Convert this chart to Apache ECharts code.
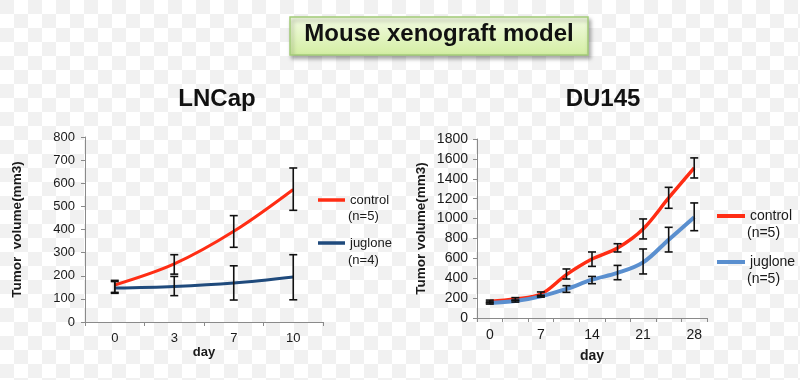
<!DOCTYPE html>
<html>
<head>
<meta charset="utf-8">
<script src="https://cdn.jsdelivr.net/npm/echarts@6/dist/echarts.min.js"></script>
<style>
html,body{margin:0;padding:0;}
body{
  width:800px;height:380px;
  background-color:#ffffff;
  background-image:
    linear-gradient(45deg,#f1f1f1 25%,transparent 25%,transparent 75%,#f1f1f1 75%),
    linear-gradient(45deg,#f1f1f1 25%,transparent 25%,transparent 75%,#f1f1f1 75%);
  background-size:28px 28px;
  background-position:14px 0,0 14px;
}
#chart{width:800px;height:380px;}
</style>
</head>
<body>
<div id="chart"></div>
<script>
// ---- LNCap data ----
var lncapDays = ['0', '3', '7', '10'];
var lncapControl = [160, 251, 392, 573];
var lncapControlLow = [128, 207, 323, 483];
var lncapControlHigh = [180, 291, 460, 666];
var lncapJuglone = [147, 154, 169, 195];
var lncapJugloneLow = [124, 114, 95, 96];
var lncapJugloneHigh = [175, 197, 243, 291];
var lncapTicks = {min: 0, max: 800, interval: 100};

// ---- DU145 data ----
var du145Days = ['0', '3.5', '7', '10.5', '14', '17.5', '21', '24.5', '28'];
var du145Control = [167, 191, 240, 436, 593, 704, 895, 1207, 1509];
var du145ControlLow = [152, 175, 222, 392, 519, 664, 795, 1103, 1408];
var du145ControlHigh = [180, 205, 262, 493, 664, 747, 996, 1314, 1610];
var du145Juglone = [151, 170, 218, 292, 385, 453, 559, 788, 1012];
var du145JugloneLow = [140, 160, 210, 258, 345, 385, 443, 664, 878];
var du145JugloneHigh = [162, 180, 228, 325, 418, 529, 694, 912, 1157];
var du145Ticks = {min: 0, max: 1800, interval: 200};

var FONT = '"Liberation Sans", Arial, sans-serif';
var TXT = '#1a1a1a';
var AXIS = '#8a8a8a';

function plainNum(v) { return String(v); }

function errData(low, high) {
  return low.map(function (l, i) { return [i, l, high[i]]; });
}
function errorBarSeries(name, xi, low, high) {
  return {
    type: 'custom',
    name: name,
    xAxisIndex: xi, yAxisIndex: xi,
    z: 5,
    silent: true,
    data: errData(low, high),
    encode: {x: 0, y: [1, 2]},
    renderItem: function (params, api) {
      var x = api.value(0);
      var lo = api.coord([x, api.value(1)]);
      var hi = api.coord([x, api.value(2)]);
      var w = 4;
      var st = {stroke: '#111', lineWidth: 1.6};
      return {
        type: 'group',
        children: [
          {type: 'line', shape: {x1: lo[0], y1: lo[1], x2: hi[0], y2: hi[1]}, style: st},
          {type: 'line', shape: {x1: lo[0] - w, y1: lo[1], x2: lo[0] + w, y2: lo[1]}, style: st},
          {type: 'line', shape: {x1: hi[0] - w, y1: hi[1], x2: hi[0] + w, y2: hi[1]}, style: st}
        ]
      };
    }
  };
}

function lineSeries(name, xi, data, color, width) {
  return {
    type: 'line', name: name, xAxisIndex: xi, yAxisIndex: xi,
    data: data, smooth: 0.35, symbol: 'none', z: 3,
    itemStyle: {color: color},
    lineStyle: {color: color, width: width}
  };
}

var chart = echarts.init(document.getElementById('chart'), null, {renderer: 'canvas'});

var option = {
  backgroundColor: 'transparent',
  animation: false,
  title: [
    {text: 'Mouse xenograft model', left: 439, top: 22, textAlign: 'center', padding: 0,
     textStyle: {fontFamily: FONT, fontSize: 24, fontWeight: 'bold', color: '#111'}},
    {text: 'LNCap', left: 217, top: 87, textAlign: 'center', padding: 0,
     textStyle: {fontFamily: FONT, fontSize: 24, fontWeight: 'bold', color: '#111'}},
    {text: 'DU145', left: 603, top: 87, textAlign: 'center', padding: 0,
     textStyle: {fontFamily: FONT, fontSize: 24, fontWeight: 'bold', color: '#111'}}
  ],
  legend: [
    {
      data: ['LNCap control', 'LNCap juglone'],
      orient: 'vertical', left: 318, top: 192, padding: 0,
      icon: 'rect', itemWidth: 27, itemHeight: 3.5, itemGap: 27, itemTextGap: 3,
      selectedMode: false,
      formatter: function (n) { return n.replace('LNCap ', ''); },
      textStyle: {fontFamily: FONT, fontSize: 13, color: TXT, lineHeight: 16}
    },
    {
      data: ['DU145 control', 'DU145 juglone'],
      orient: 'vertical', left: 717, top: 207.5, padding: 0,
      icon: 'rect', itemWidth: 28, itemHeight: 4, itemGap: 29, itemTextGap: 2,
      selectedMode: false,
      formatter: function (n) { return n.replace('DU145 ', ''); },
      textStyle: {fontFamily: FONT, fontSize: 14, color: TXT, lineHeight: 17}
    }
  ],
  grid: [
    {left: 85, right: 477, top: 137, bottom: 58, containLabel: false},
    {left: 477, right: 93, top: 139, bottom: 62, containLabel: false}
  ],
  xAxis: [
    {
      type: 'category', gridIndex: 0, data: lncapDays, boundaryGap: true,
      name: 'day', nameLocation: 'middle', nameGap: 18,
      nameTextStyle: {fontFamily: FONT, fontSize: 13, fontWeight: 'bold', color: TXT},
      axisLine: {lineStyle: {color: AXIS, width: 1}},
      axisTick: {show: true, length: 4, lineStyle: {color: AXIS}},
      axisLabel: {fontFamily: FONT, fontSize: 13, color: TXT, margin: 10},
      splitLine: {show: false}
    },
    {
      type: 'category', gridIndex: 1, data: du145Days, boundaryGap: true,
      name: 'day', nameLocation: 'middle', nameGap: 31,
      nameTextStyle: {fontFamily: FONT, fontSize: 14, fontWeight: 'bold', color: TXT},
      axisLine: {lineStyle: {color: AXIS, width: 1}},
      axisTick: {show: true, interval: 0, length: 4, lineStyle: {color: AXIS}},
      axisLabel: {fontFamily: FONT, fontSize: 14, color: TXT, margin: 10, interval: 1},
      splitLine: {show: false}
    }
  ],
  yAxis: [
    {
      type: 'value', gridIndex: 0,
      min: lncapTicks.min, max: lncapTicks.max, interval: lncapTicks.interval,
      name: 'Tumor  volume(mm3)', nameLocation: 'middle', nameGap: 61, nameRotate: 90,
      nameTextStyle: {fontFamily: FONT, fontSize: 13.5, fontWeight: 'bold', color: TXT},
      axisLine: {show: true, lineStyle: {color: AXIS, width: 1}},
      axisTick: {show: true, length: 4, lineStyle: {color: AXIS}},
      axisLabel: {fontFamily: FONT, fontSize: 13, color: TXT, margin: 10, formatter: plainNum},
      splitLine: {show: false}
    },
    {
      type: 'value', gridIndex: 1,
      min: du145Ticks.min, max: du145Ticks.max, interval: du145Ticks.interval,
      name: 'Tumor volume(mm3)', nameLocation: 'middle', nameGap: 49, nameRotate: 90,
      nameTextStyle: {fontFamily: FONT, fontSize: 13.5, fontWeight: 'bold', color: TXT},
      axisLine: {show: true, lineStyle: {color: AXIS, width: 1}},
      axisTick: {show: true, length: 4, lineStyle: {color: AXIS}},
      axisLabel: {fontFamily: FONT, fontSize: 14, color: TXT, margin: 9, formatter: plainNum},
      splitLine: {show: false}
    }
  ],
  graphic: [
    {
      type: 'rect', z: -1,
      shape: {x: 290, y: 17, width: 298, height: 38},
      style: {
        fill: {type: 'linear', x: 0, y: 0, x2: 0, y2: 1,
               colorStops: [{offset: 0, color: '#f3fbe3'}, {offset: 1, color: '#d3eea2'}]},
        stroke: '#a3cc78', lineWidth: 1.5,
        shadowBlur: 4, shadowOffsetX: 2, shadowOffsetY: 3, shadowColor: 'rgba(0,0,0,0.35)'
      }
    },
    {type: 'text', x: 348, y: 216, style: {text: '(n=5)', font: '13px ' + FONT, fill: TXT, textVerticalAlign: 'middle'}},
    {type: 'text', x: 348, y: 260, style: {text: '(n=4)', font: '13px ' + FONT, fill: TXT, textVerticalAlign: 'middle'}},
    {type: 'text', x: 747, y: 233, style: {text: '(n=5)', font: '14px ' + FONT, fill: TXT, textVerticalAlign: 'middle'}},
    {type: 'text', x: 747, y: 279, style: {text: '(n=5)', font: '14px ' + FONT, fill: TXT, textVerticalAlign: 'middle'}}
  ],
  series: [
    lineSeries('LNCap control', 0, lncapControl, '#ff2d14', 3),
    lineSeries('LNCap juglone', 0, lncapJuglone, '#1f4a7c', 3),
    errorBarSeries('LNCap control SD', 0, lncapControlLow, lncapControlHigh),
    errorBarSeries('LNCap juglone SD', 0, lncapJugloneLow, lncapJugloneHigh),
    lineSeries('DU145 control', 1, du145Control, '#ff2d14', 3.5),
    lineSeries('DU145 juglone', 1, du145Juglone, '#5a8fcf', 4),
    errorBarSeries('DU145 control SD', 1, du145ControlLow, du145ControlHigh),
    errorBarSeries('DU145 juglone SD', 1, du145JugloneLow, du145JugloneHigh)
  ]
};
chart.setOption(option);
</script>
</body>
</html>
